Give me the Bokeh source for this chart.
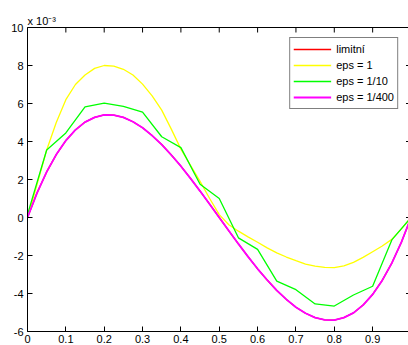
import math
from bokeh.plotting import figure
from bokeh.models import LinearAxis, FixedTicker, Legend, LegendItem, Range1d
from bokeh.embed import file_html
from bokeh.resources import INLINE

# ---- data (values in units of 1e-3) ----
x_fine = [0.0, 0.025, 0.05, 0.075, 0.1, 0.125, 0.15, 0.175, 0.2, 0.225,
          0.25, 0.275, 0.3, 0.325, 0.35, 0.375, 0.4, 0.425, 0.45, 0.475,
          0.5, 0.525, 0.55, 0.575, 0.6, 0.625, 0.65, 0.675, 0.7, 0.725,
          0.75, 0.775, 0.8, 0.825, 0.85, 0.875, 0.9, 0.925, 0.95, 0.975, 1.0]

limitni = [0.0, 1.30, 2.40, 3.31, 4.05, 4.61, 5.02, 5.27, 5.40, 5.39,
           5.27, 5.04, 4.72, 4.31, 3.84, 3.29, 2.70, 2.06, 1.39, 0.70,
           0.0, -0.70, -1.39, -2.06, -2.70, -3.29, -3.84, -4.31, -4.72, -5.04,
           -5.27, -5.39, -5.40, -5.27, -5.02, -4.61, -4.05, -3.31, -2.40, -1.30, 0.0]

eps_1 = [0.0, 1.75, 3.55, 5.00, 6.20, 7.00, 7.50, 7.85, 8.00, 7.97,
         7.80, 7.50, 7.02, 6.40, 5.65, 4.65, 3.60, 2.75, 1.90, 1.00,
         0.15, -0.38, -0.72, -1.02, -1.30, -1.60, -1.86, -2.08, -2.27, -2.45,
         -2.56, -2.63, -2.64, -2.55, -2.36, -2.10, -1.80, -1.50, -1.15, -0.60, 0.0]

eps_400 = [0.0, 1.30, 2.40, 3.31, 4.05, 4.61, 5.02, 5.27, 5.40, 5.39,
           5.27, 5.04, 4.72, 4.31, 3.84, 3.29, 2.70, 2.06, 1.39, 0.70,
           0.0, -0.70, -1.39, -2.06, -2.70, -3.29, -3.84, -4.31, -4.72, -5.04,
           -5.27, -5.39, -5.40, -5.27, -5.02, -4.61, -4.05, -3.31, -2.40, -1.30, 0.0]

x_coarse = [0.0, 0.05, 0.1, 0.15, 0.2, 0.25, 0.3, 0.35, 0.4, 0.45,
            0.5, 0.55, 0.6, 0.65, 0.7, 0.75, 0.8, 0.85, 0.9, 0.95, 1.0]
eps_10 = [0.15, 3.55, 4.45, 5.82, 6.02, 5.85, 5.55, 4.25, 3.68, 1.75,
          1.00, -1.07, -1.68, -3.35, -3.80, -4.55, -4.66, -4.08, -3.62, -1.18, 0.0]

x_ticks = [0.0, 0.1, 0.2, 0.3, 0.4, 0.5, 0.6, 0.7, 0.8, 0.9]
x_tick_labels = ["0", "0.1", "0.2", "0.3", "0.4", "0.5", "0.6", "0.7", "0.8", "0.9"]
y_ticks = [-6, -4, -2, 0, 2, 4, 6, 8, 10]
y_tick_labels = ["-6", "-4", "-2", "0", "2", "4", "6", "8", "10"]

series_labels = ["limitní", "eps = 1", "eps = 1/10", "eps = 1/400"]
series_colors = ["#ff0000", "#ffff00", "#00ff00", "#ff00ff"]
scale_text = "x 10\u207b\u00b3"

X_END = 0.9935   # right part of the axes box falls just outside the picture
Y_MIN, Y_MAX = -6, 10
FONT = "Liberation Sans"

p = figure(width=408, height=345, output_backend="svg", toolbar_location=None,
           x_range=Range1d(0, X_END), y_range=Range1d(Y_MIN, Y_MAX),
           min_border_left=27, min_border_right=0, min_border_top=27, min_border_bottom=0)
p.background_fill_color = "white"
p.border_fill_color = "white"
p.outline_line_color = None
p.grid.visible = False

def style_axis(ax, ticks, labels, standoff):
    ax.ticker = FixedTicker(ticks=ticks)
    ax.major_label_overrides = {t: l for t, l in zip(ticks, labels)}
    ax.major_tick_in = 5
    ax.major_tick_out = 0
    ax.minor_tick_line_color = None
    ax.major_tick_line_color = "black"
    ax.axis_line_color = "black"
    ax.major_label_text_color = "black"
    ax.major_label_text_font = FONT
    ax.major_label_text_font_size = "11px"
    ax.major_label_standoff = standoff

style_axis(p.xaxis[0], x_ticks, x_tick_labels, 3)
style_axis(p.yaxis[0], y_ticks, y_tick_labels, 4)

# top border line (no ticks / labels on the axis itself)
top_ax = LinearAxis(ticker=FixedTicker(ticks=[]), axis_line_color="black",
                    minor_tick_line_color=None, major_tick_line_color=None)
p.add_layout(top_ax, "above")

# inward tick marks on the top and right sides (half of each dash is clipped by the frame)
p.scatter(x_ticks, [Y_MAX] * len(x_ticks), marker="dash", angle=math.pi / 2,
          size=10, line_color="black", line_width=1)
p.scatter([1.0] * len(y_ticks), y_ticks, marker="dash",
          size=10, line_color="black", line_width=1)

r_lim = p.line(x_fine, limitni, line_color=series_colors[0], line_width=1.3)
r_e1 = p.line(x_fine, eps_1, line_color=series_colors[1], line_width=1.3)
r_e10 = p.line(x_coarse, eps_10, line_color=series_colors[2], line_width=1.3)
r_e400 = p.line(x_fine, eps_400, line_color=series_colors[3], line_width=1.8)

legend = Legend(items=[LegendItem(label=series_labels[0], renderers=[r_lim]),
                       LegendItem(label=series_labels[1], renderers=[r_e1]),
                       LegendItem(label=series_labels[2], renderers=[r_e10]),
                       LegendItem(label=series_labels[3], renderers=[r_e400])],
                location="top_right")
legend.margin = 10
legend.padding = 3
legend.spacing = 0
legend.label_height = 16
legend.glyph_height = 16
legend.glyph_width = 38
legend.label_standoff = 5
legend.border_line_color = "black"
legend.border_line_width = 1
legend.background_fill_color = "white"
legend.background_fill_alpha = 1
legend.label_text_font = FONT
legend.label_text_font_size = "11px"
legend.label_text_color = "black"
p.add_layout(legend)

p.title.text = scale_text
p.title.align = "left"
p.title.offset = 0
p.title.standoff = 2
p.title.text_font = FONT
p.title.text_font_size = "11px"
p.title.text_font_style = "normal"
p.title.text_color = "black"

open("out.html", "w").write(file_html(p, INLINE))
